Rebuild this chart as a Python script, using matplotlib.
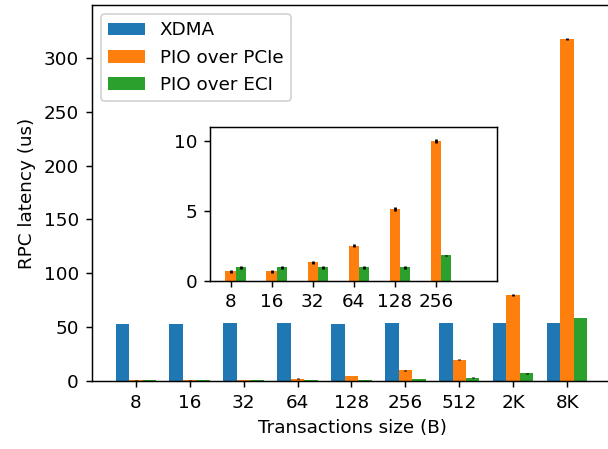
import numpy as np
import matplotlib.pyplot as plt

# Transaction sizes and measured RPC latency (us)
sizes = ["8", "16", "32", "64", "128", "256", "512", "2K", "8K"]
xdma = [53.0, 53.0, 53.8, 53.8, 53.0, 53.6, 53.6, 53.6, 53.6]
pio_pcie = [0.66, 0.66, 1.3, 2.5, 5.1, 9.97, 20.1, 79.8, 317.5]
pio_pcie_err = [0.12, 0.12, 0.12, 0.12, 0.12, 0.12, 0.5, 0.8, 1.0]
pio_eci = [0.95, 0.95, 0.95, 0.95, 0.95, 1.8, 3.4, 7.2, 58.5]
pio_eci_err = [0.12, 0.12, 0.12, 0.12, 0.12, 0.05, 0.2, 0.8, 0.3]

n_inset = 6  # sizes shown in the zoomed inset (8..256)

w = 0.25
x = np.arange(len(sizes))

fig = plt.figure(figsize=(608 / 132, 449 / 132), dpi=132)
ax = fig.add_axes([0.151, 0.151, 0.858, 0.838])

ax.bar(x - w, xdma, w, label="XDMA")
ax.bar(x, pio_pcie, w, yerr=pio_pcie_err, label="PIO over PCIe")
ax.bar(x + w, pio_eci, w, yerr=pio_eci_err, label="PIO over ECI")
ax.set_xticks(x)
ax.set_xticklabels(sizes)
ax.set_xlim(-0.816, 8.86)
ax.set_ylim(0, 349)
ax.set_xlabel("Transactions size (B)")
ax.set_ylabel("RPC latency (us)")
ax.legend(loc="upper left")

# inset: small transaction sizes, PIO only
ins = fig.add_axes([210 / 608, 1 - 280.5 / 449, 287.5 / 608, 154 / 449])
xi = np.arange(n_inset)
ins.bar(xi, pio_pcie[:n_inset], w, yerr=pio_pcie_err[:n_inset], color="C1")
ins.bar(xi + w, pio_eci[:n_inset], w, yerr=pio_eci_err[:n_inset], color="C2")
ins.set_xticks(xi)
ins.set_xticklabels(sizes[:n_inset])
ins.set_xlim(-0.5, 6.5)
ins.set_ylim(0, 11)

fig.savefig("out.png", dpi=132)
